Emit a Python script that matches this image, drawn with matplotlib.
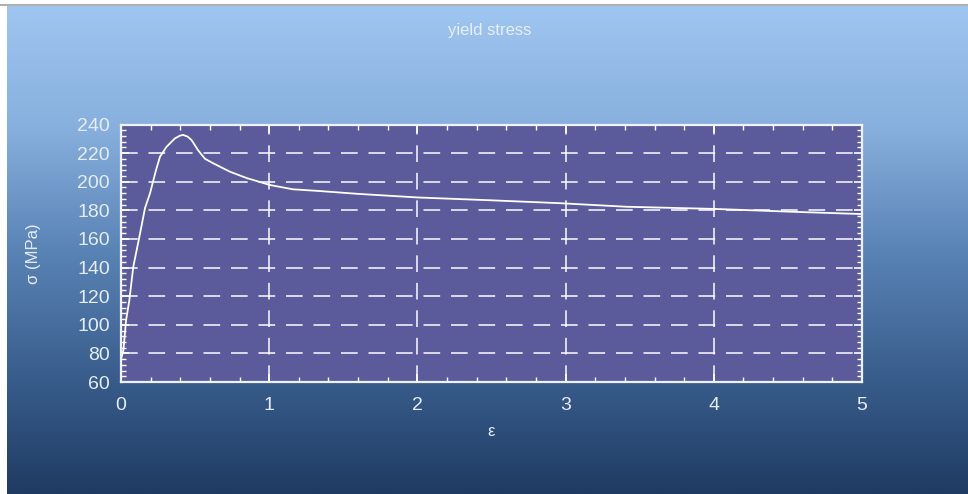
import numpy as np
import matplotlib
matplotlib.use("Agg")
import matplotlib.pyplot as plt
from matplotlib.colors import LinearSegmentedColormap
from matplotlib.ticker import MultipleLocator

plt.rcParams['font.family'] = ['Liberation Sans', 'DejaVu Sans']

# data
strain = [0.0, 0.016, 0.034, 0.056, 0.083, 0.124, 0.162, 0.196, 0.236, 0.263,
          0.308, 0.364, 0.40, 0.42, 0.45, 0.477, 0.52, 0.567, 0.62, 0.668,
          0.735, 0.85, 1.005, 1.16, 1.34, 1.6, 2.0, 2.5, 2.96, 3.41, 4.0,
          4.53, 5.0]
stress = [76, 82, 103, 117, 140.6, 161.5, 181.6, 192, 208, 217.5,
          224.5, 230.3, 232.3, 232.7, 231.5, 229, 222, 216, 213, 210.5,
          207, 202.5, 197.7, 194.7, 193.5, 191.5, 189, 187, 185, 182.5, 181,
          179, 177.4]
x_ticks = [0, 1, 2, 3, 4, 5]
y_ticks = [60, 80, 100, 120, 140, 160, 180, 200, 220, 240]

W, H = 968, 494
fig = plt.figure(figsize=(W / 100, H / 100), dpi=100)
fig.patch.set_facecolor('white')

# gradient background
bg = fig.add_axes([7 / W, 0, 1 - 7 / W, (H - 6) / H])
cmap = LinearSegmentedColormap.from_list(
    'bg', ['#9fc6f0', '#88b0de', '#5a84b6', '#3a5f8e', '#1f3b63'])
grad = np.linspace(0, 1, 256).reshape(-1, 1)
bg.imshow(grad, aspect='auto', cmap=cmap, extent=[0, 1, 0, 1])
bg.set_axis_off()
# thin gray line at top
fig.add_artist(plt.Line2D([0, 1], [1 - 5 / H, 1 - 5 / H], color='#b0b0b0', lw=1.5))

ax = fig.add_axes([121 / W, 1 - 382 / H, (862 - 121) / W, (382 - 124.5) / H])
ax.set_facecolor('#5b5b9c')
ax.plot(strain, stress, color='white', lw=1.3, solid_joinstyle='round')
ax.set_xlim(0, 5)
ax.set_ylim(60, 240)
ax.set_xticks(x_ticks)
ax.set_yticks(y_ticks)
ax.xaxis.set_minor_locator(MultipleLocator(0.2))
ax.yaxis.set_minor_locator(MultipleLocator(4))
ax.tick_params(which='both', direction='in', colors='white', top=True, right=True,
               labelcolor='#e4ecf4', labelsize=14)
ax.tick_params(which='major', length=6, width=1.2)
ax.tick_params(axis='y', which='major', pad=8)
ax.tick_params(axis='x', which='major', pad=11)
ax.tick_params(which='minor', length=3.5, width=1)
for s in ax.spines.values():
    s.set_color('#eef2f8')
    s.set_linewidth(1.6)
ax.grid(True, which='major', color='white', linestyle=(0, (10, 6.5)), lw=1.2, alpha=0.9)

ax.set_xlabel('ε', color='#e4ecf4', fontsize=12, labelpad=7)
ax.set_ylabel('σ (MPa)', color='#e4ecf4', fontsize=12, labelpad=26)
fig.text(490 / W, 1 - 31 / H, 'yield stress', color='#e6eef8', fontsize=12,
         ha='center', va='center')

fig.savefig('out.png', dpi=100, facecolor=fig.get_facecolor())
